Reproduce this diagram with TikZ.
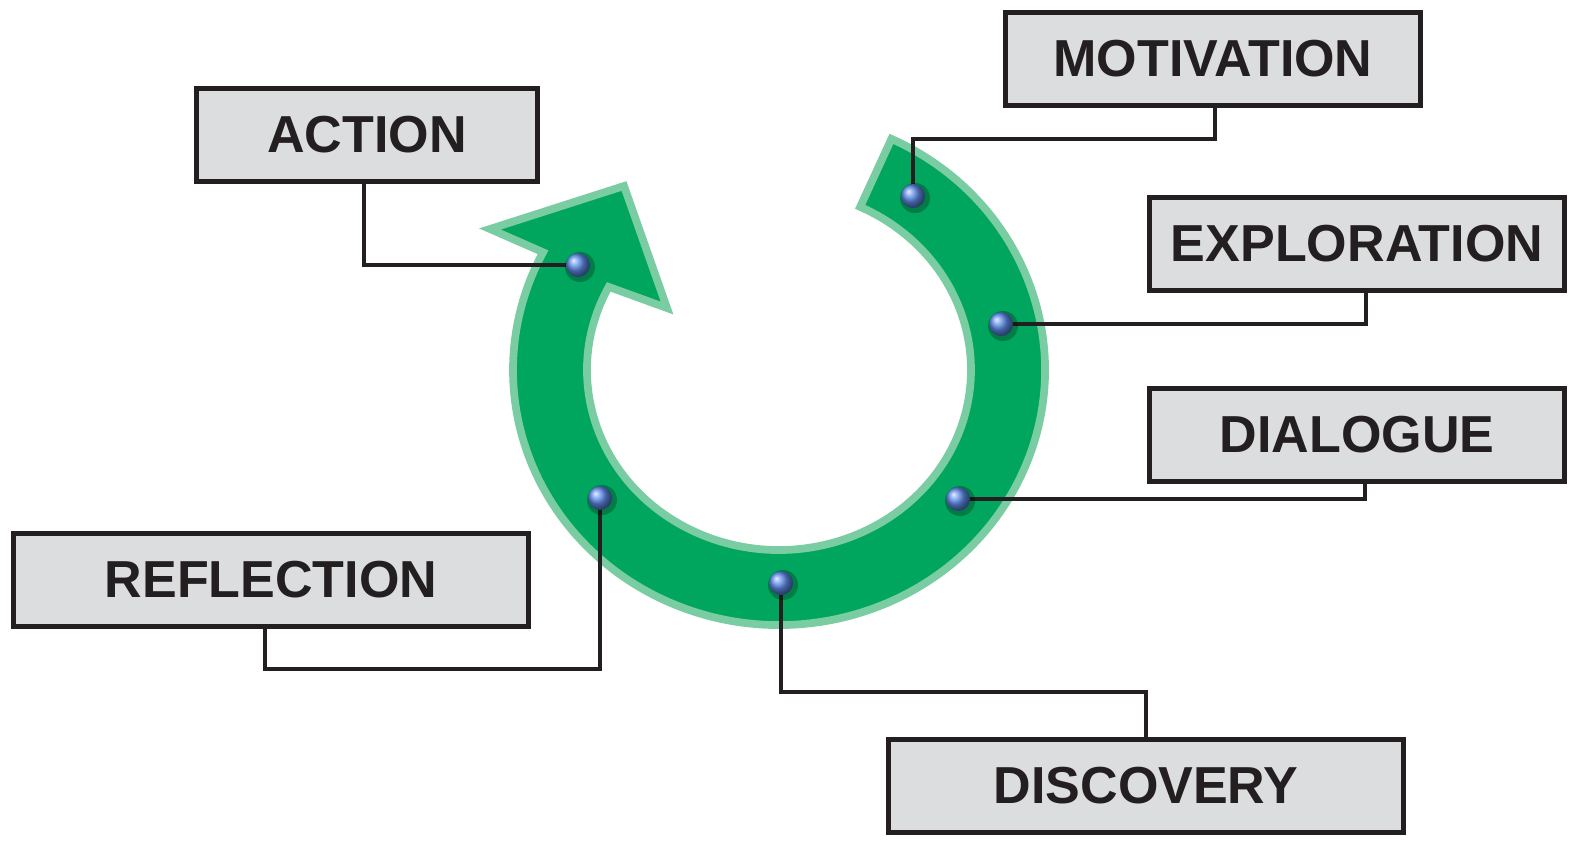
\documentclass[tikz,border=0pt]{standalone}
\usepackage{fontspec}
\setmainfont{Liberation Sans}
\usepackage{tikz}
\usetikzlibrary{calc}
\definecolor{ringgreen}{RGB}{0,166,94}
\definecolor{ringedge}{RGB}{122,204,162}
\definecolor{boxgray}{RGB}{220,221,223}
\definecolor{boxline}{RGB}{35,31,32}
\definecolor{beadblue}{RGB}{95,140,235}
\tikzset{
  stage/.style={draw=boxline, line width=1.4pt, fill=boxgray, text=boxline,
    minimum width=#1, minimum height=0.93cm, inner sep=0pt,
    font=\fontsize{14.8}{17}\selectfont\bfseries},
  link/.style={draw=boxline, line width=1.1pt},
  bead/.style={circle, minimum size=0.24cm, inner sep=0pt, shading=ball, ball color=beadblue}
}

\begin{document}
\begin{tikzpicture}[x=0.01cm,y=0.01cm]
    \useasboundingbox (0,0) rectangle (1579,841);
    \coordinate (c) at (779,471);

    % the cycle arrow
    \filldraw[fill=ringgreen, draw=ringedge, line width=2.2pt, line join=miter]
        ($(c)+(65:266 and 255)$) arc[start angle=65, end angle=-207.5, x radius=266, y radius=255]
        -- (490,612) -- (624,655) -- (667,533)
        -- ($(c)+(-207.5:192 and 180)$) arc[start angle=-207.5, end angle=65, x radius=192, y radius=180]
        -- cycle;

    % boxes
    \foreach \n/\x/\y/\w/\t in {act/367/706/3.40/ACTION, mot/1213/782/4.15/MOTIVATION,
        exp/1357/597/4.15/EXPLORATION, dia/1357/406/4.15/DIALOGUE,
        ref/271/261/5.14/REFLECTION, dis/1146/55/5.14/DISCOVERY} {
        \node[stage=\w cm] (\n) at (\x,\y) {\t};
    }

    % beads on the ring
    \foreach \n/\x/\y in {act/578/576, mot/913/645, exp/1001/517,
        dia/958/342, dis/781/258, ref/600/343} {
        \coordinate (p-\n) at (\x,\y);
    }

    \draw[link] ([xshift=-0.03cm]act.south) |- (p-act);
    \draw[link] ([xshift=0.02cm]mot.south) -- ++(0,-31) -| (p-mot);
    \draw[link] ([xshift=0.09cm]exp.south) |- (p-exp);
    \draw[link] ([xshift=0.08cm]dia.south) |- (p-dia);
    \draw[link] (dis.north) -- ++(0,45) -| (p-dis);
    \draw[link] ([xshift=-0.06cm]ref.south) -- ++(0,-40) -| (p-ref);

    \foreach \n in {act,mot,exp,dia,dis,ref} {
        \fill[black, opacity=0.25] ([xshift=0.02cm,yshift=-0.02cm]p-\n) circle[radius=15];
        \node[bead] (b-\n) at (p-\n) {};
    }

\end{tikzpicture}
\end{document}
